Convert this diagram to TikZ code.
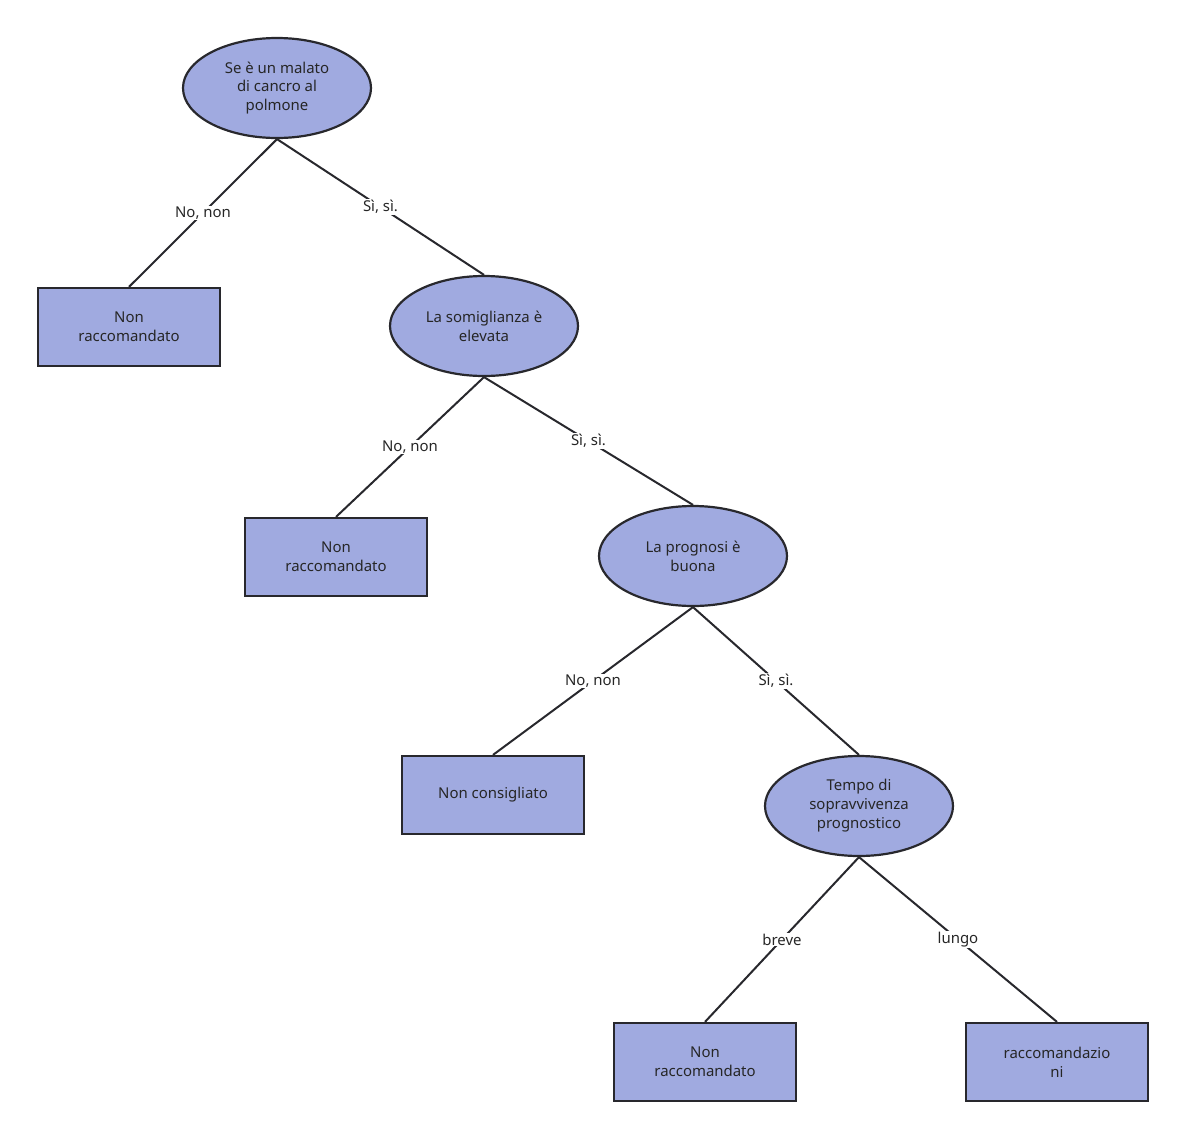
\documentclass[tikz,border=0pt]{standalone}
\usepackage{fontspec}
\setmainfont{Noto Sans}
\usetikzlibrary{shapes.geometric}
\definecolor{nfill}{RGB}{160,170,224}
\definecolor{nline}{RGB}{40,40,45}
\begin{document}
\begin{tikzpicture}[x=1bp,y=-1bp,
  base/.style={draw=nline,fill=nfill,line width=2.2bp,align=center,font=\fontsize{15}{19}\selectfont,text=black!85,inner sep=0pt},
  ell/.style={base,ellipse,minimum width=188bp,minimum height=100bp},
  box/.style={base,rectangle,minimum width=182bp,minimum height=78bp},
  edge/.style={draw=nline,line width=2bp},
  lbl/.style={fill=white,font=\fontsize{15}{19}\selectfont,text=black!85,inner sep=1bp}]
\useasboundingbox (0,0) rectangle (1186,1138);
\node[ell] (e1) at (277,88) {Se è un malato\\di cancro al\\polmone};
\node[box] (r1) at (129,327) {Non\\raccomandato};
\node[ell] (e2) at (484,326) {La somiglianza è\\elevata};
\node[box] (r2) at (336,557) {Non\\raccomandato};
\node[ell] (e3) at (693,556) {La prognosi è\\buona};
\node[box] (r3) at (493,795) {Non consigliato};
\node[ell] (e4) at (859,806) {Tempo di\\sopravvivenza\\prognostico};
\node[box] (r4) at (705,1062) {Non\\raccomandato};
\node[box] (r5) at (1057,1062) {raccomandazio\\ni};
\draw[edge] (e1.south) -- node[lbl]{No, non} (r1.north);
\draw[edge] (e1.south) -- node[lbl]{Sì, sì.} (e2.north);
\draw[edge] (e2.south) -- node[lbl]{No, non} (r2.north);
\draw[edge] (e2.south) -- node[lbl]{Sì, sì.} (e3.north);
\draw[edge] (e3.south) -- node[lbl]{No, non} (r3.north);
\draw[edge] (e3.south) -- node[lbl]{Sì, sì.} (e4.north);
\draw[edge] (e4.south) -- node[lbl]{breve} (r4.north);
\draw[edge] (e4.south) -- node[lbl]{lungo} (r5.north);
\end{tikzpicture}
\end{document}
